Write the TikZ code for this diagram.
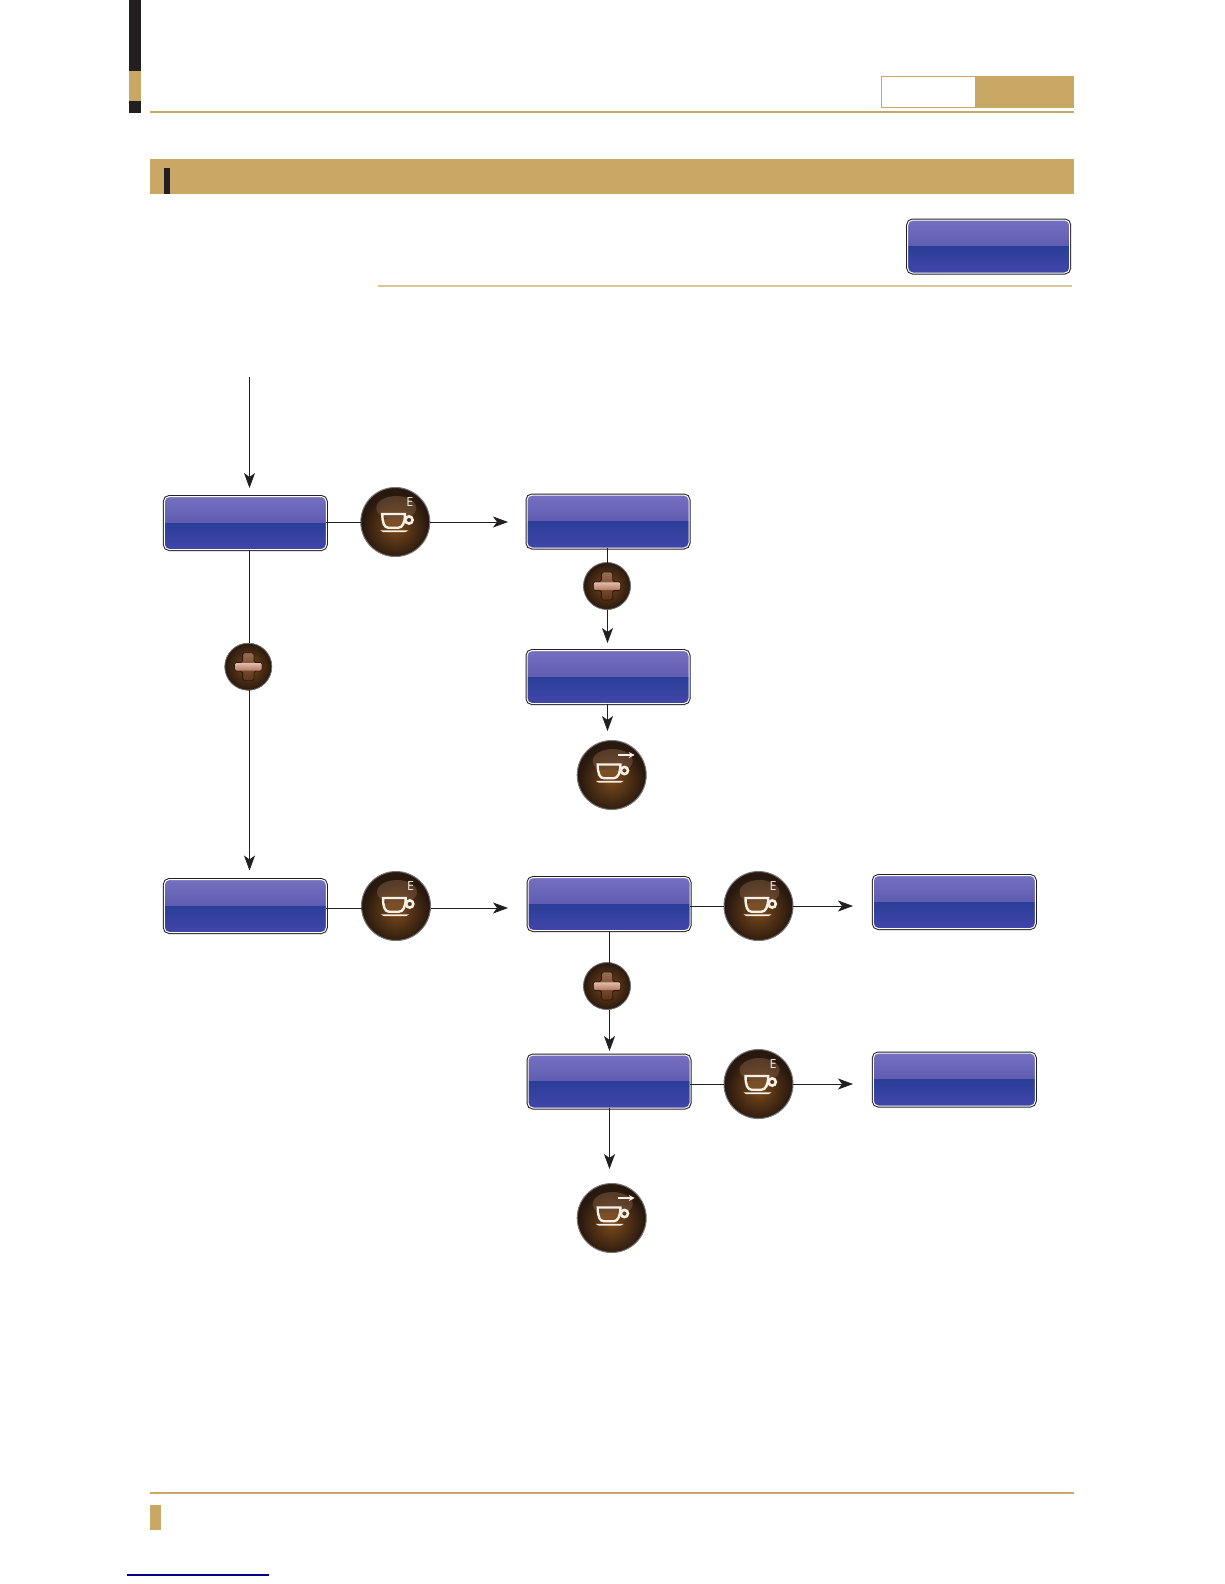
\documentclass[tikz,border=0pt]{standalone}
\usepackage{fontspec}
\setmainfont{Open Sans}
\usetikzlibrary{arrows.meta}
\definecolor{gold}{HTML}{C8A864}
\definecolor{palegold}{HTML}{D9C795}
\definecolor{ink}{HTML}{231F20}
\definecolor{cupwhite}{HTML}{F8F0E4}
\definecolor{blueA}{HTML}{7570C0}
\definecolor{blueM}{HTML}{6662B4}
\definecolor{blueB}{HTML}{4A48A2}
\definecolor{blueC}{HTML}{2A3E98}
\definecolor{blueD}{HTML}{4246AA}
\definecolor{darkbrown}{HTML}{28180E}
\definecolor{ringgrey}{HTML}{757575}
\definecolor{brownA}{HTML}{7A4A1C}
\definecolor{brownB}{HTML}{86624A}
\definecolor{brownC}{HTML}{7A4F25}
\definecolor{plusUp}{HTML}{9A6C52}
\definecolor{plusDown}{HTML}{5E3416}
\definecolor{pinkA}{HTML}{E2BCAA}
\definecolor{pinkB}{HTML}{B47C66}
\tikzset{
  x=1pt,y=-1pt,
  lcdbox/.style={rectangle,rounded corners=5pt,minimum width=162pt,minimum height=53pt,inner sep=0pt,outer sep=0pt,
    preaction={draw=ink,line width=3pt},draw=white,line width=1pt,
    path picture={
      \fill[sharp corners,top color=blueA,middle color=blueM,bottom color=blueB] (path picture bounding box.north west) rectangle ([yshift=-.2pt]path picture bounding box.east);
      \fill[sharp corners,top color=blueC,bottom color=blueD] (path picture bounding box.west) rectangle (path picture bounding box.south east);
    }},
  coffeebtn/.style={circle,minimum size=69pt,inner sep=0pt,outer sep=0pt,fill=darkbrown,draw=ringgrey,line width=1pt,
    path picture={
      \coordinate (pc) at (path picture bounding box.center);
      \shade[inner color=brownA,outer color=darkbrown] ([yshift=-5pt]pc) circle[radius=33pt];
      \fill[brownB,opacity=.45] ([xshift=1pt,yshift=14pt]pc) ellipse[x radius=20pt,y radius=12pt];
    }},
  plusbtn/.style={circle,minimum size=47pt,inner sep=0pt,outer sep=0pt,fill=darkbrown,draw=ringgrey,line width=.8pt,
    path picture={
      \coordinate (pc) at (path picture bounding box.center);
      \shade[inner color=brownA,outer color=darkbrown] (pc) circle[radius=24pt];
    }},
  connector/.style={draw=ink,line width=.8pt},
  flow/.style={connector,-{Stealth[length=15pt,width=11pt,inset=4pt]}},
  cupline/.style={draw=cupwhite,line width=2.4pt},
  pics/cupshape/.style={code={
    \fill[brownC] (-12.5,-3) -- (9,-3) .. controls (9,2) and (6,5.7) .. (3,5.7) -- (-7,5.7) .. controls (-11,5.7) and (-12.5,2) .. (-12.5,-3) -- cycle;
    \draw[cupline] (-13,-8) -- (9.7,-8) .. controls (9.7,1) and (7,5.7) .. (3,5.7) -- (-7,5.7) .. controls (-11,5.7) and (-13,1) .. (-13,-8) -- cycle;
    \draw[cupline,line width=2.6pt] (13.7,-2) circle[radius=3.6pt];
    \fill[cupwhite] (-15,8.4) -- (13,8.4) -- (10,10.2) -- (-12,10.2) -- cycle;
  }},
  pics/plusshape/.style={code={
    \path[top color=plusUp,bottom color=plusDown,draw=darkbrown,line width=.9pt,rounded corners=1.8pt] (-5.7,-14) -- (5.7,-14) -- (5.7,-4.2) -- (13.7,-4.2) -- (13.7,4.3) -- (5.7,4.3) -- (5.7,14) -- (-5.7,14) -- (-5.7,4.3) -- (-13.7,4.3) -- (-13.7,-4.2) -- (-5.7,-4.2) -- cycle;
    \path[top color=pinkA,bottom color=pinkB,rounded corners=1.2pt] (-13.2,-3.7) rectangle (13.2,3.8);
  }},
}
\begin{document}
\begin{tikzpicture}
\useasboundingbox (0,0) rectangle (1224,1584);
\fill[white] (0,0) rectangle (1224,1584);
% page furniture
\fill[ink] (129,0) rectangle (141,71);
\fill[gold] (129,71) rectangle (141,101);
\fill[ink] (129,101) rectangle (141,113);
\fill[gold] (150,111) rectangle (1074,113);
\fill[gold] (881,76) rectangle (1074,107.7);
\fill[white] (882,77.5) rectangle (975,107);
\fill[gold] (150,159) rectangle (1074,194);
\fill[ink] (164,168) rectangle (170,194);
\fill[palegold] (378,285.2) rectangle (1072,286.8);
\fill[gold] (150,1492) rectangle (1074,1494);
\fill[gold] (150,1505) rectangle (161,1530);
\fill[blue!55!black] (127,1574.4) rectangle (269,1575.6);
% boxes
\node[lcdbox] (top)  at (988.7,246.5) {};
\node[lcdbox] (b1)   at (245.3,523) {};
\node[lcdbox] (b2)   at (608,521.5) {};
\node[lcdbox] (b3)   at (608,677) {};
\node[lcdbox] (b4)   at (245.3,906) {};
\node[lcdbox] (b5)   at (609,904) {};
\node[lcdbox] (b6)   at (954.3,902) {};
\node[lcdbox] (b7)   at (609,1081.5) {};
\node[lcdbox] (b8)   at (954.3,1079.5) {};
% round buttons
\node[coffeebtn] (c1) at (395.3,522) {};
\node[coffeebtn] (c2) at (396,906) {};
\node[coffeebtn] (c3) at (758.5,906) {};
\node[coffeebtn] (c4) at (758.5,1084) {};
\node[coffeebtn] (s1) at (611.7,775) {};
\node[coffeebtn] (s2) at (611.7,1218) {};
\node[plusbtn] (p1) at (248.3,666.7) {};
\node[plusbtn] (p2) at (607,586) {};
\node[plusbtn] (p3) at (607,986) {};
% icons
\foreach \c in {c1,c2,c3,c4}{
  \pic at (\c) {cupshape};
}
\tikzset{etext/.style={text=cupwhite,font=\fontsize{12.5}{12.5}\selectfont,inner sep=0pt}}
\node[etext] (e1) at ([xshift=14.5pt,yshift=19.5pt]c1) {E};
\node[etext] (e2) at ([xshift=14.5pt,yshift=19.5pt]c2) {E};
\node[etext] (e3) at ([xshift=14.5pt,yshift=19.5pt]c3) {E};
\node[etext] (e4) at ([xshift=14.5pt,yshift=19.5pt]c4) {E};
\foreach \c in {s1,s2}{
  \begin{scope}[shift={(\c)}]
    \pic[xshift=-1pt,yshift=2.5pt] at (0,0) {cupshape};
    \draw[cupwhite,line width=1.3pt,-{Stealth[length=6pt,width=6pt]}] (6,-20) -- (23,-20);
  \end{scope}
}
\foreach \p in {p1,p2,p3}{
  \pic at (\p) {plusshape};
}
% free ends of connectors
\coordinate (start) at (249.5,377);
\coordinate (t1) at (249.5,488);
\coordinate (t2) at (508,522);
\coordinate (t3) at (249.5,870.5);
\coordinate (t4) at (508,908);
\coordinate (t5) at (607.5,643);
\coordinate (t6) at (607.5,731);
\coordinate (t7) at (853,906);
\coordinate (t8) at (609.5,1051);
\coordinate (t9) at (609.5,1169);
\coordinate (t10) at (853,1084);
% connectors
\draw[flow] (start) -- (t1);
\draw[connector] (c1.west -| b1.east) -- (c1.west);
\draw[flow] (c1.east) -- (t2);
\draw[connector] (t1 |- b1.south) -- (t1 |- p1.north);
\draw[flow] (t3 |- p1.south) -- (t3);
\draw[connector] (t5 |- b2.south) -- (t5 |- p2.north);
\draw[flow] (t5 |- p2.south) -- (t5);
\draw[flow] (t6 |- b3.south) -- (t6);
\draw[connector] (t4 -| b4.east) -- (t4 -| c2.west);
\draw[flow] (t4 -| c2.east) -- (t4);
\draw[connector] (c3.west -| b5.east) -- (c3.west);
\draw[flow] (c3.east) -- (t7);
\draw[connector] (t8 |- b5.south) -- (t8 |- p3.north);
\draw[flow] (t8 |- p3.south) -- (t8);
\draw[flow] (t9 |- b7.south) -- (t9);
\draw[connector] (c4.west -| b7.east) -- (c4.west);
\draw[flow] (c4.east) -- (t10);
\end{tikzpicture}
\end{document}
